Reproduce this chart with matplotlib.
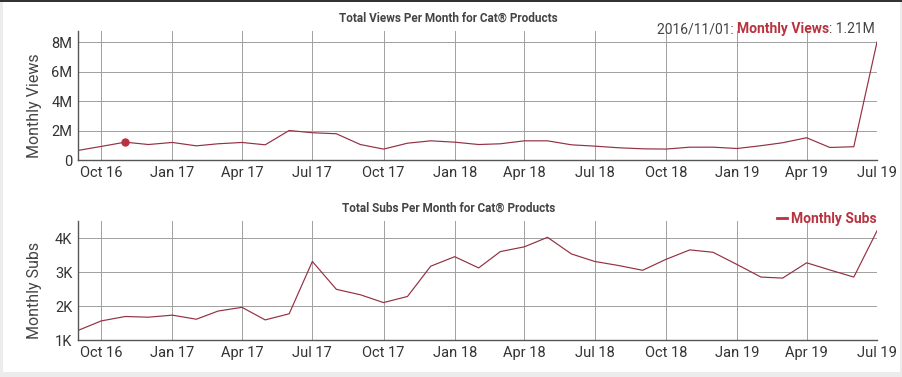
import numpy as np
import pandas as pd
import matplotlib
matplotlib.use("Agg")
import matplotlib.pyplot as plt
import matplotlib.dates as mdates
from matplotlib.patches import Rectangle
from matplotlib.ticker import FixedLocator, FuncFormatter
from matplotlib.offsetbox import TextArea, HPacker, AnchoredOffsetbox

plt.rcParams["font.family"] = ["Roboto", "DejaVu Sans"]

# ── Data ──────────────────────────────────────────────────────────────
months = pd.date_range("2016-09-01", "2019-07-01", freq="MS")

views_m = [0.65, 0.92, 1.21, 1.05, 1.19, 0.96, 1.10, 1.19, 1.03, 2.00,
           1.85, 1.78, 1.05, 0.74, 1.14, 1.30, 1.21, 1.05, 1.10, 1.30,
           1.30, 1.03, 0.94, 0.83, 0.76, 0.74, 0.87, 0.87, 0.78, 0.97,
           1.17, 1.51, 0.85, 0.90, 8.00]

subs_k = [1.29, 1.57, 1.70, 1.68, 1.74, 1.62, 1.86, 1.97, 1.60, 1.78,
          3.32, 2.50, 2.34, 2.11, 2.29, 3.18, 3.46, 3.13, 3.61, 3.75,
          4.03, 3.54, 3.32, 3.20, 3.06, 3.38, 3.66, 3.59, 3.23, 2.86,
          2.83, 3.28, 3.07, 2.86, 4.22]

hover_idx = 2          # 2016/11/01
views_ticks = [0, 2, 4, 6, 8]
subs_ticks = [1, 2, 3, 4]

LINE = "#933042"
RED = "#b8323f"
TXT = "#333333"
GRID = "#a0a0a0"

views = np.array(views_m) * 1e6
subs = np.array(subs_k) * 1e3

# ── Figure ────────────────────────────────────────────────────────────
fig = plt.figure(figsize=(9.03, 3.77), dpi=100)
fig.patch.set_facecolor("#ececec")
fig.patches.append(Rectangle((3 / 903, 5 / 377), 897 / 903, 370 / 377,
                             transform=fig.transFigure, facecolor="white",
                             edgecolor="none", zorder=-10))
fig.patches.append(Rectangle((0, 375 / 377), 1, 2 / 377,
                             transform=fig.transFigure, facecolor="#333333",
                             edgecolor="none", zorder=-10))

ax1 = fig.add_axes([78 / 903, 217 / 377, 799 / 903, 129 / 377])
ax2 = fig.add_axes([78 / 903, 36.7 / 377, 799 / 903, 119.3 / 377])


def style(ax):
    ax.set_facecolor("none")
    for s in ("top", "right"):
        ax.spines[s].set_visible(False)
    for s in ("left", "bottom"):
        ax.spines[s].set_color("#555555")
        ax.spines[s].set_linewidth(1.0)
    ax.grid(True, color=GRID, linewidth=0.7)
    ax.set_axisbelow(True)
    ax.tick_params(length=0, labelsize=10.5, colors=TXT, pad=4)
    ax.xaxis.set_major_locator(mdates.MonthLocator(bymonth=[1, 4, 7, 10]))
    ax.xaxis.set_major_formatter(mdates.DateFormatter("%b %y"))
    ax.set_xlim(months[0], months[-1])


style(ax1)
ax1.plot(months, views, color=LINE, linewidth=0.85)
ax1.plot(months[hover_idx], views[hover_idx], "o", color=RED, markersize=5)
ax1.set_ylim(0, 8.75e6)
ax1.yaxis.set_major_locator(FixedLocator([t * 1e6 for t in views_ticks]))
ax1.yaxis.set_major_formatter(FuncFormatter(lambda v, p: "0" if v == 0 else f"{v/1e6:.0f}M"))
ax1.set_ylabel("Monthly Views", fontsize=11.5, color="#444444")
ax1.yaxis.set_label_coords(-0.045, 0.42)
fig.text(0.497, 0.952, "Total Views Per Month for Cat® Products",
         ha="center", va="center", fontsize=8.5, fontweight="bold", color="#444444")

# hover readout
parts = [TextArea("2016/11/01: ", textprops=dict(color="#444444", fontsize=10)),
         TextArea("Monthly Views", textprops=dict(color=RED, fontsize=10, fontweight="bold")),
         TextArea(f": {views[hover_idx]/1e6:.2f}M", textprops=dict(color="#444444", fontsize=10))]
box = HPacker(children=parts, pad=0, sep=0, align="baseline")
anch = AnchoredOffsetbox(loc="center right", child=box, frameon=False, pad=0,
                         bbox_to_anchor=(875 / 903, 348 / 377),
                         bbox_transform=fig.transFigure, borderpad=0)
fig.add_artist(anch)

style(ax2)
ax2.plot(months, subs, color=LINE, linewidth=0.85, label="Monthly Subs")
ax2.set_ylim(1000, 4510)
ax2.yaxis.set_major_locator(FixedLocator([t * 1e3 for t in subs_ticks]))
ax2.yaxis.set_major_formatter(FuncFormatter(lambda v, p: f"{v/1e3:.0f}K"))
ax2.set_ylabel("Monthly Subs", fontsize=11.5, color="#444444")
ax2.yaxis.set_label_coords(-0.045, 0.42)
fig.text(0.497, 0.449, "Total Subs Per Month for Cat® Products",
         ha="center", va="center", fontsize=8.5, fontweight="bold", color="#444444")
leg = ax2.legend(loc="center right", bbox_to_anchor=(877 / 903, 158 / 377),
                 bbox_transform=fig.transFigure, frameon=False,
                 handlelength=0.7, handletextpad=0.3, borderpad=0, borderaxespad=0,
                 prop=dict(size=10, weight="bold"))
for t in leg.get_texts():
    t.set_color(RED)
leg.get_lines()[0].set_color(RED)
leg.get_lines()[0].set_linewidth(2)

fig.savefig("out.png", dpi=100)
